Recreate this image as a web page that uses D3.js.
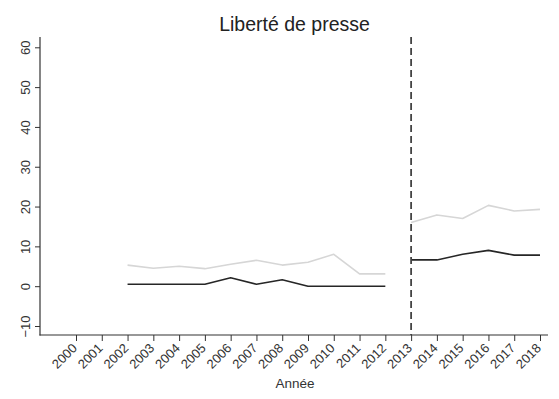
<!DOCTYPE html>
<html>
<head>
<meta charset="utf-8">
<script src="https://cdn.jsdelivr.net/npm/d3@7"></script>
<style>
  body { margin: 0; background: #fff; }
  text { font-family: "Liberation Sans", Arial, sans-serif; }
</style>
</head>
<body>
<div id="chart"></div>
<script>
// years on the x axis
const years = d3.range(2000, 2019);
const yTicks = [-10, 0, 10, 20, 30, 40, 50, 60];
const breakYear = 2013;

// light grey series
const lightYears = [2002, 2003, 2004, 2005, 2006, 2007, 2008, 2009, 2010, 2011, 2012];
const lightVals  = [5.3, 4.5, 5, 4.4, 5.5, 6.5, 5.3, 6, 8, 3.1, 3.1];
const lightYears2 = [2013, 2014, 2015, 2016, 2017, 2018];
const lightVals2  = [16, 17.9, 17, 20.3, 18.9, 19.3];

// dark series
const darkYears = [2002, 2003, 2004, 2005, 2006, 2007, 2008, 2009, 2010, 2011, 2012];
const darkVals  = [0.5, 0.5, 0.5, 0.5, 2.1, 0.5, 1.6, 0, 0, 0, 0];
const darkYears2 = [2013, 2014, 2015, 2016, 2017, 2018];
const darkVals2  = [6.6, 6.6, 8, 9, 7.8, 7.8];

const width = 559, height = 399;

const svg = d3.select("#chart").append("svg")
    .attr("width", width)
    .attr("height", height);

const x = d3.scaleLinear().domain([2000, 2018]).range([76, 540]);
const y = d3.scaleLinear().domain([-10, 60]).range([326, 47.3]);

const axisColor = "#333";

// y axis
svg.append("g")
    .attr("transform", "translate(40,0)")
    .call(d3.axisLeft(y).tickValues(yTicks).tickSize(5).tickSizeOuter(0))
    .call(g => g.select(".domain").remove())
    .call(g => g.selectAll(".tick line").attr("stroke", axisColor))
    .call(g => g.selectAll(".tick text")
        .attr("font-size", 13)
        .attr("fill", "#333")
        .attr("text-anchor", "middle")
        .attr("x", 0).attr("dy", 0)
        .attr("transform", "translate(-10.5,0) rotate(-90)"));
svg.append("line")
    .attr("x1", 40).attr("x2", 40)
    .attr("y1", 37).attr("y2", 335.5)
    .attr("stroke", axisColor).attr("stroke-width", 1.2);

// x axis
svg.append("g")
    .attr("transform", "translate(0,335)")
    .call(d3.axisBottom(x).tickValues(years).tickFormat(d3.format("d")).tickSize(6).tickSizeOuter(0))
    .call(g => g.select(".domain").remove())
    .call(g => g.selectAll(".tick line").attr("stroke", axisColor))
    .call(g => g.selectAll(".tick text")
        .attr("font-size", 13)
        .attr("fill", "#333")
        .attr("text-anchor", "end")
        .attr("y", 0).attr("dy", 0)
        .attr("transform", "translate(1.3,14) rotate(-45)"));
svg.append("line")
    .attr("x1", 39.5).attr("x2", 548)
    .attr("y1", 335).attr("y2", 335)
    .attr("stroke", axisColor).attr("stroke-width", 1.2);

// lines
const line = d3.line().x(d => x(d[0])).y(d => y(d[1]));

const series = [
    { ys: lightYears, vs: lightVals, color: "#d6d6d6" },
    { ys: lightYears2, vs: lightVals2, color: "#d6d6d6" },
    { ys: darkYears, vs: darkVals, color: "#262626" },
    { ys: darkYears2, vs: darkVals2, color: "#262626" }
];

svg.append("g")
    .selectAll("path")
    .data(series)
    .join("path")
    .attr("fill", "none")
    .attr("stroke", d => d.color)
    .attr("stroke-width", 1.6)
    .attr("stroke-linejoin", "round")
    .attr("d", d => line(d.ys.map((yr, i) => [yr, d.vs[i]])));

// vertical dashed line at 2013
svg.append("line")
    .attr("x1", x(breakYear)).attr("x2", x(breakYear))
    .attr("y1", 37).attr("y2", 335)
    .attr("stroke", "#444")
    .attr("stroke-width", 1.8)
    .attr("stroke-dasharray", "7,4");

// title
svg.append("text")
    .attr("x", 294.5).attr("y", 31)
    .attr("text-anchor", "middle")
    .attr("font-size", 19.5)
    .attr("fill", "#222")
    .text("Liberté de presse");

// x label
svg.append("text")
    .attr("x", 295).attr("y", 388)
    .attr("text-anchor", "middle")
    .attr("font-size", 13.5)
    .attr("fill", "#333")
    .text("Année");
</script>
</body>
</html>
